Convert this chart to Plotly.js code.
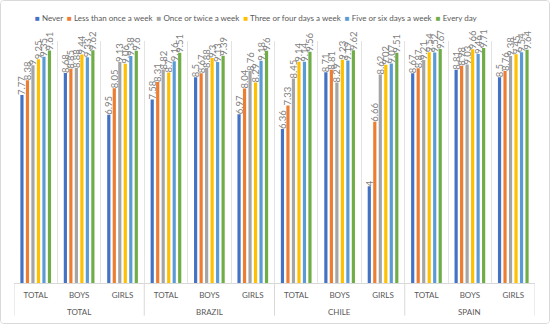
<!DOCTYPE html>
<html>
<head>
<meta charset="utf-8">
<script src="https://cdn.plot.ly/plotly-3.0.1.min.js"></script>
<style>
html,body{margin:0;padding:0;background:#fff;}
#wrap{position:absolute;left:0;top:0;width:550px;height:324px;box-sizing:border-box;border:1px solid #d9d9d9;border-radius:4px;overflow:hidden;}
#chart{width:548px;height:322px;}
</style>
</head>
<body>
<div id="wrap"><div id="chart"></div></div>
<script>
const groups = ['TOTAL','BRAZIL','CHILE','SPAIN'];
const subgroups = ['TOTAL','BOYS','GIRLS'];
const seriesNames = ['Never','Less than once a week','Once or twice a week','Three or four days a week','Five or six days a week','Every day'];
const colors = ['#4472C4','#ED7D31','#A5A5A5','#FFC000','#5B9BD5','#70AD47'];

// values per category in order: TOTAL(T,B,G), BRAZIL(T,B,G), CHILE(T,B,G), SPAIN(T,B,G)
const never          = [7.77, 8.68, 6.95, 7.58, 8.5,  6.97, 6.36, 8.71, 4,    8.67, 8.81, 8.5 ];
const lessThanOnce   = [8.38, 8.85, 8.05, 8.31, 8.67, 8.04, 7.33, 8.81, 6.66, 8.87, 8.98, 8.76];
const onceOrTwice    = [9,    8.88, 9.13, 8.82, 8.88, 8.76, 8.45, 8.29, 8.62, 9.21, 9.03, 9.38];
const threeOrFour    = [9.25, 9.44, 9.06, 8.7,  9.3,  8.29, 9.14, 9.23, 9.02, 9.54, 9.66, 9.45];
const fiveOrSix      = [9.35, 9.33, 9.38, 9.16, 9.13, 9.18, 9.14, 9.19, 9.07, 9.52, 9.46, 9.54];
const everyDay       = [9.61, 9.62, 9.6,  9.51, 9.39, 9.6,  9.56, 9.62, 9.51, 9.67, 9.71, 9.64];
const allSeries = [never, lessThanOnce, onceOrTwice, threeOrFour, fiveOrSix, everyDay];

const FONT = 'Lato, Liberation Sans, Arial, sans-serif';

const xInner = [];
groups.forEach(() => subgroups.forEach(s => { xInner.push(s); }));
const xPos = xInner.map((_, i) => i);
const n = xInner.length;

const traces = allSeries.map((vals, i) => ({
  type: 'bar',
  name: seriesNames[i],
  x: xPos,
  y: vals,
  marker: {color: colors[i]},
  text: vals.map(v => String(v)),
  textposition: 'outside',
  textangle: -90,
  constraintext: 'none',
  cliponaxis: false,
  textfont: {family: FONT, size: 9.5, color: '#7f7f7f'},
  showlegend: false,
  hoverinfo: 'skip'
}));

// legend as a single line of text with coloured squares
const legendText = seriesNames.map((s, i) =>
  '<span style="color:' + colors[i] + '">■</span> ' + s).join('  ');

const annotations = [{
  text: legendText, xref: 'paper', yref: 'paper', x: 0.465, y: 1.095,
  xanchor: 'center', yanchor: 'middle', showarrow: false,
  font: {family: FONT, size: 8, color: '#595959'}
}];
const shapes = [];
const per = subgroups.length;
groups.forEach((g, gi) => {
  annotations.push({
    text: g, xref: 'x', yref: 'paper', x: gi * per + (per - 1) / 2, y: -0.12,
    xanchor: 'center', yanchor: 'middle', showarrow: false,
    font: {family: FONT, size: 8, color: '#595959'}
  });
});
for (let gi = 0; gi <= groups.length; gi++) {
  shapes.push({
    type: 'line', xref: 'x', yref: 'paper', x0: gi * per - 0.5, x1: gi * per - 0.5,
    y0: 0, y1: -0.135, line: {color: '#d9d9d9', width: 1}
  });
}

const layout = {
  width: 548, height: 322,
  margin: {l: 13, r: 14, t: 40, b: 40},
  paper_bgcolor: '#ffffff', plot_bgcolor: 'rgba(0,0,0,0)',
  barmode: 'group',
  bargap: 0.24,
  bargroupgap: 0.42,
  font: {family: FONT, color: '#595959'},
  showlegend: false,
  annotations: annotations,
  shapes: shapes,
  xaxis: {
    range: [-0.5, n - 0.5],
    tickmode: 'array', tickvals: xPos, ticktext: xInner,
    showgrid: false, zeroline: false,
    showline: true, linecolor: '#d9d9d9', linewidth: 1,
    ticks: 'outside', ticklen: 4, tickcolor: 'rgba(0,0,0,0)',
    tickfont: {family: FONT, size: 8, color: '#595959'},
    minor: {tickmode: 'linear', tick0: -0.5, dtick: 1, showgrid: true, gridcolor: '#e3e3e3', gridwidth: 1, ticks: ''}
  },
  yaxis: {
    range: [0, 10], showgrid: false, zeroline: false, showline: false,
    showticklabels: false, ticks: ''
  }
};

Plotly.newPlot('chart', traces, layout, {displayModeBar: false, staticPlot: true});
</script>
</body>
</html>
